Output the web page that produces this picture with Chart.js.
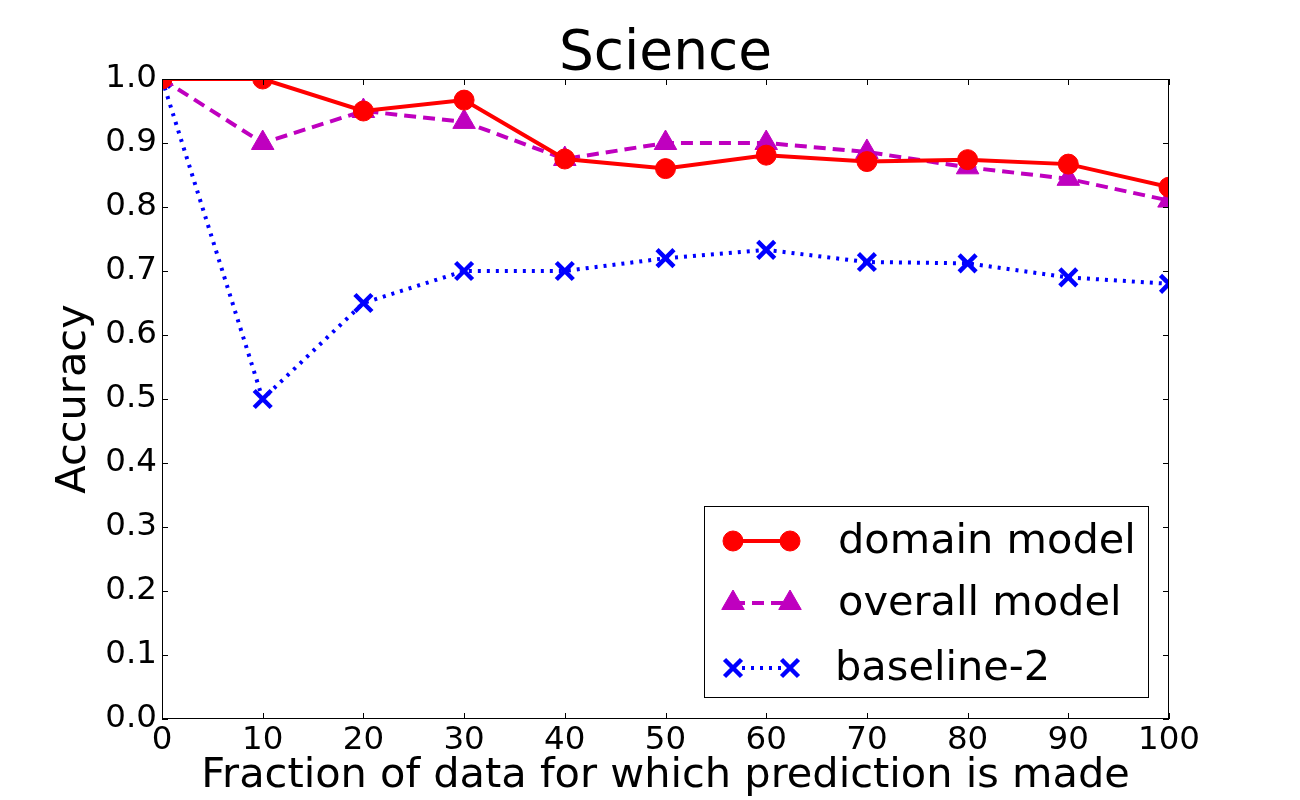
<!DOCTYPE html>
<html>
<head>
<meta charset="utf-8">
<script src="https://cdn.jsdelivr.net/npm/chart.js@4"></script>
<style>
  body { margin: 0; background: #fff; }
  canvas { display: block; }
</style>
</head>
<body>
<canvas id="scienceChart" width="1300" height="800"></canvas>
<script>
const fractions = [0, 10, 20, 30, 40, 50, 60, 70, 80, 90, 100];
const domainModel = [1.0, 1.0, 0.95, 0.967, 0.875, 0.86, 0.881, 0.871, 0.874, 0.867, 0.831];
const overallModel = [1.0, 0.9, 0.95, 0.933, 0.875, 0.9, 0.9, 0.886, 0.862, 0.844, 0.81];
const baseline2 = [1.0, 0.5, 0.65, 0.7, 0.7, 0.72, 0.733, 0.714, 0.712, 0.69, 0.68];
const seriesNames = ['domain model', 'overall model', 'baseline-2'];

const FONT = "'DejaVu Sans', sans-serif";

function toPoints(vals) {
    return fractions.map(function (x, i) { return { x: x, y: vals[i] }; });
}

// frame, inward ticks, title, axis titles, legend
const decorations = {
    id: 'decorations',
    afterDraw: function (chart) {
        const c = chart.ctx;
        const a = chart.chartArea;
        const xs = chart.scales.x, ys = chart.scales.y;
        c.save();
        c.strokeStyle = '#000';
        c.lineWidth = 1;
        c.strokeRect(a.left + 0.5, a.top + 0.5, a.right - a.left - 1, a.bottom - a.top - 1);
        c.beginPath();
        xs.ticks.forEach(function (t) {
            const px = Math.round(xs.getPixelForValue(t.value)) + 0.5;
            c.moveTo(px, a.bottom); c.lineTo(px, a.bottom - 6);
            c.moveTo(px, a.top); c.lineTo(px, a.top + 6);
        });
        ys.ticks.forEach(function (t) {
            const py = Math.round(ys.getPixelForValue(t.value)) + 0.5;
            c.moveTo(a.left, py); c.lineTo(a.left + 6, py);
            c.moveTo(a.right, py); c.lineTo(a.right - 6, py);
        });
        c.stroke();

        c.fillStyle = '#000';
        c.textAlign = 'center';
        c.textBaseline = 'middle';
        c.font = '55px ' + FONT;
        c.fillText('Science', (a.left + a.right) / 2, 55);
        c.font = '41.5px ' + FONT;
        c.fillText('Fraction of data for which prediction is made', (a.left + a.right) / 2, 776);
        c.save();
        c.translate(74, (a.top + a.bottom) / 2);
        c.rotate(-Math.PI / 2);
        c.fillText('Accuracy', 0, 0);
        c.restore();

        // legend box
        c.fillStyle = '#fff';
        c.fillRect(704.5, 506.5, 444, 191);
        c.strokeStyle = '#000';
        c.strokeRect(704.5, 506.5, 444, 191);
        const rowY = [541, 603, 668];
        const ds = chart.data.datasets;
        ds.forEach(function (d, i) {
            const y = rowY[i];
            c.beginPath();
            c.strokeStyle = d.borderColor;
            c.lineWidth = d.borderWidth;
            c.setLineDash(d.borderDash || []);
            c.moveTo(733, y); c.lineTo(790, y);
            c.stroke();
            c.setLineDash([]);
            [733, 790].forEach(function (mx) {
                c.fillStyle = d.pointBackgroundColor;
                c.strokeStyle = d.pointBorderColor;
                c.lineWidth = d.pointBorderWidth;
                c.beginPath();
                Chart.helpers.drawPoint(c, {
                    pointStyle: d.pointStyle,
                    radius: d.pointRadius,
                    borderWidth: d.pointBorderWidth,
                    rotation: 0
                }, mx, y);
            });
            c.fillStyle = '#000';
            c.textAlign = 'left';
            c.font = '41.5px ' + FONT;
            c.fillText(d.label, i === 2 ? 835 : 838, y + 1);
        });
        c.restore();
    }
};

new Chart(document.getElementById('scienceChart'), {
    type: 'line',
    data: {
        datasets: [{
            label: seriesNames[0],
            data: toPoints(domainModel),
            borderColor: '#ff0000',
            backgroundColor: '#ff0000',
            borderWidth: 4,
            pointStyle: 'circle',
            pointRadius: 10,
            pointBackgroundColor: '#ff0000',
            pointBorderColor: '#ff0000',
            pointBorderWidth: 1,
            clip: 0
        }, {
            label: seriesNames[1],
            data: toPoints(overallModel),
            borderColor: '#bf00bf',
            backgroundColor: '#bf00bf',
            borderWidth: 4,
            borderDash: [12, 7],
            pointStyle: 'triangle',
            pointRadius: 13,
            pointBackgroundColor: '#bf00bf',
            pointBorderColor: '#bf00bf',
            pointBorderWidth: 1,
            clip: 0
        }, {
            label: seriesNames[2],
            data: toPoints(baseline2),
            borderColor: '#0000ff',
            backgroundColor: '#0000ff',
            borderWidth: 4,
            borderDash: [3, 6],
            pointStyle: 'crossRot',
            pointRadius: 12,
            pointBackgroundColor: '#0000ff',
            pointBorderColor: '#0000ff',
            pointBorderWidth: 4.5,
            clip: 0
        }]
    },
    options: {
        responsive: false,
        devicePixelRatio: 1,
        animation: false,
        layout: { padding: { top: 79, right: 131, left: 0, bottom: 0 } },
        plugins: {
            legend: { display: false },
            tooltip: { enabled: false }
        },
        elements: { line: { tension: 0 } },
        scales: {
            x: {
                type: 'linear',
                min: 0,
                max: 100,
                grid: { display: false, drawTicks: false },
                border: { display: false },
                afterFit: function (s) { s.height = 81; },
                ticks: {
                    stepSize: 10,
                    padding: 2,
                    color: '#000',
                    font: { family: FONT, size: 32.5 },
                    maxRotation: 0,
                    autoSkip: false,
                    callback: function (v) { return String(v); }
                }
            },
            y: {
                min: 0,
                max: 1,
                grid: { display: false, drawTicks: false },
                border: { display: false },
                afterFit: function (s) { s.width = 162; },
                ticks: {
                    stepSize: 0.1,
                    padding: 5,
                    color: '#000',
                    font: { family: FONT, size: 32.5 },
                    callback: function (v) { return v.toFixed(1); }
                }
            }
        }
    },
    plugins: [decorations]
});
</script>
</body>
</html>
